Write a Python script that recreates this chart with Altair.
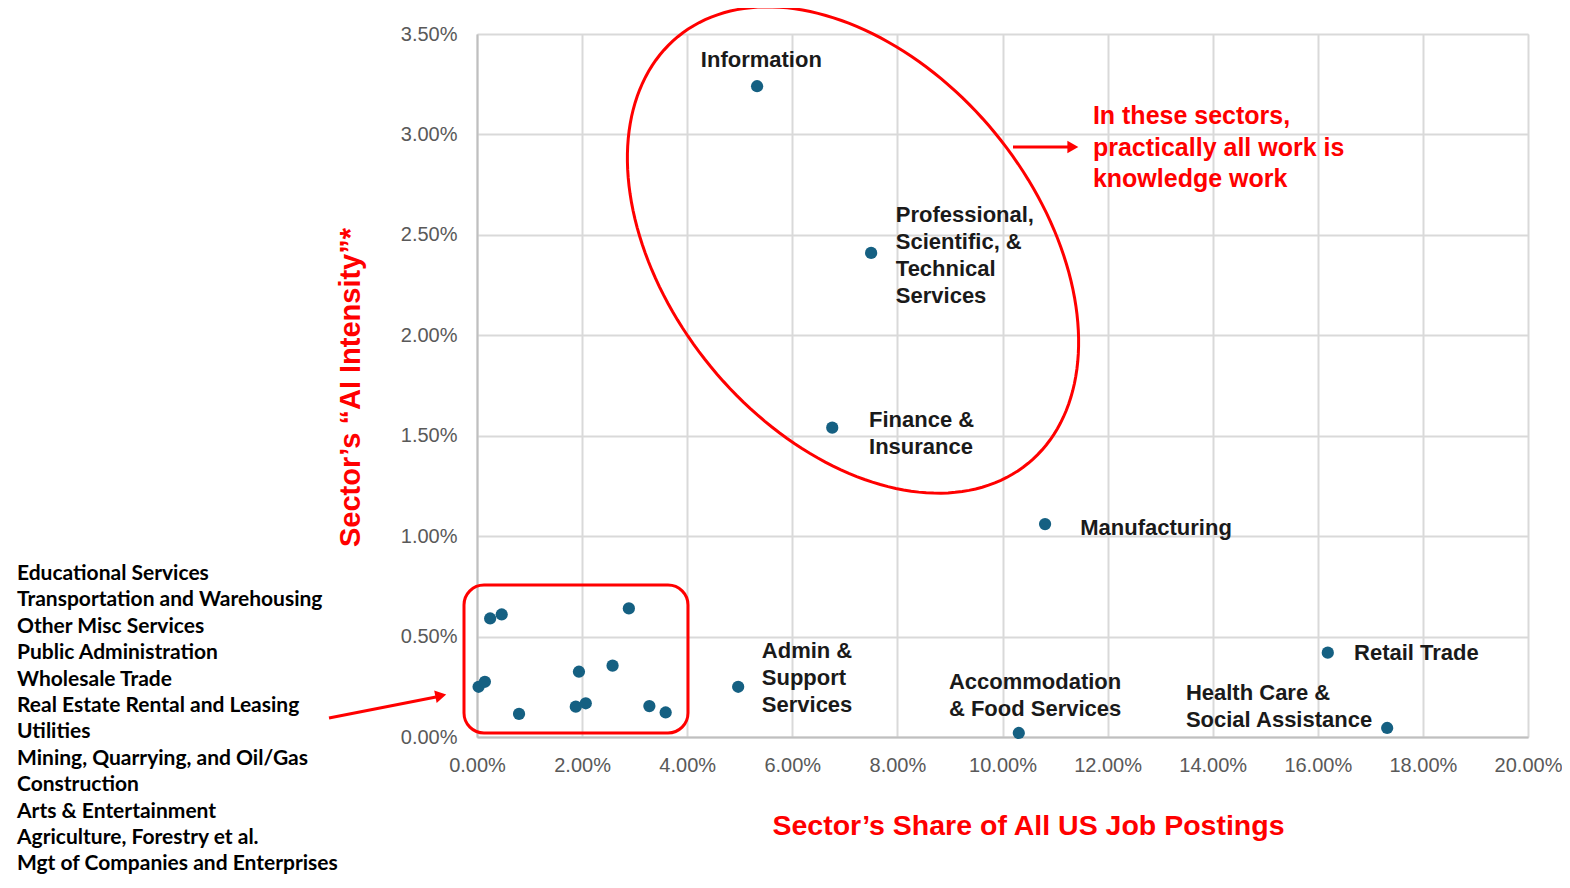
import altair as alt
import numpy as np
import pandas as pd

# ---- data (percent units) ----
sectors = [
    "Information", "Professional, Scientific, & Technical Services", "Finance & Insurance",
    "Manufacturing", "Admin & Support Services", "Accommodation & Food Services",
    "Retail Trade", "Health Care & Social Assistance",
    "Cluster A", "Cluster B", "Cluster C", "Cluster D", "Cluster E", "Cluster F",
    "Cluster G", "Cluster H", "Cluster I", "Cluster J", "Cluster K", "Cluster L",
]
job_share = [5.33, 7.50, 6.76, 10.81, 4.97, 10.31, 16.19, 17.32,
             0.25, 0.47, 2.89, 1.94, 2.58, 0.03, 0.15, 0.80, 1.88, 2.07, 3.28, 3.59]
ai_intensity = [3.24, 2.41, 1.54, 1.06, 0.25, 0.02, 0.42, 0.045,
                0.59, 0.61, 0.64, 0.325, 0.355, 0.25, 0.275, 0.115, 0.151, 0.168, 0.154, 0.122]

x_ticks = [0, 2, 4, 6, 8, 10, 12, 14, 16, 18, 20]
y_ticks = [0, 0.5, 1.0, 1.5, 2.0, 2.5, 3.0, 3.5]

# point labels (text lines) and the anchor of their first line, in data units
label_lines = [
    ["Information"],
    ["Professional,", "Scientific, &", "Technical", "Services"],
    ["Finance &", "Insurance"],
    ["Manufacturing"],
    ["Admin &", "Support", "Services"],
    ["Accommodation", "& Food Services"],
    ["Health Care &", "Social Assistance"],
    ["Retail Trade"],
]
label_x = [4.26, 7.97, 7.46, 11.48, 5.42, 8.98, 13.49, 16.69]
label_y = [3.37, 2.60, 1.58, 1.04, 0.43, 0.275, 0.22, 0.42]

note_lines = ["In these sectors,", "practically all work is", "knowledge work"]
note_x = [11.72]
note_y = [3.09]

cluster_list = [
    "Educational Services", "Transportation and Warehousing", "Other Misc Services",
    "Public Administration", "Wholesale Trade", "Real Estate Rental and Leasing",
    "Utilities", "Mining, Quarrying, and Oil/Gas", "Construction",
    "Arts & Entertainment", "Agriculture, Forestry et al.", "Mgt of Companies and Enterprises",
]

W, H = 1051, 703
XMAX, YMAX = 20.0, 3.5
RED = "#ff0000"

pts = pd.DataFrame({"sector": sectors, "x": job_share, "y": ai_intensity})

xs = alt.Scale(domain=[0, XMAX], nice=False)
ys = alt.Scale(domain=[0, YMAX], nice=False)

xaxis = alt.Axis(values=x_ticks, labelExpr="format(datum.value, '.2f') + '%'",
                 title="Sector’s Share of All US Job Postings", titleColor=RED,
                 titleFont="Liberation Sans", titleFontSize=28.5, titleFontWeight="bold",
                 titleX=551, titleY=88, titleBaseline="middle", titleAnchor="middle",
                 labelFont="Liberation Sans", labelFontSize=20, labelColor="#595959",
                 labelPadding=18, labelFlush=False, labelOverlap=False,
                 ticks=False, domainColor="#bfbfbf", domainWidth=2,
                 gridColor="#d9d9d9", gridWidth=2)
yaxis = alt.Axis(values=y_ticks, labelExpr="format(datum.value, '.2f') + '%'",
                 title="Sector’s “AI Intensity”*", titleColor=RED,
                 titleFont="Liberation Sans", titleFontSize=29, titleFontWeight="bold",
                 titleX=-112, titleY=353, titleAnchor="middle",
                 labelFont="Liberation Sans", labelFontSize=20, labelColor="#595959",
                 labelPadding=20, labelFlush=False, labelOverlap=False,
                 ticks=False, domainColor="#bfbfbf", domainWidth=2,
                 gridColor="#d9d9d9", gridWidth=2)

points = alt.Chart(pts).mark_circle(size=150, color="#156082", opacity=1).encode(
    x=alt.X("x:Q", scale=xs, axis=xaxis),
    y=alt.Y("y:Q", scale=ys, axis=yaxis),
)

# label text
lab_df = pd.DataFrame({"t": label_lines, "x": label_x, "y": label_y})
labels = alt.Chart(lab_df).mark_text(
    align="left", baseline="middle", font="Liberation Sans", fontSize=22,
    fontWeight="bold", color="#1a1a1a", lineHeight=27
).encode(x=alt.X("x:Q", scale=xs), y=alt.Y("y:Q", scale=ys), text="t")

note_df = pd.DataFrame({"t": [note_lines], "x": note_x, "y": note_y})
note = alt.Chart(note_df).mark_text(
    align="left", baseline="middle", font="Liberation Sans", fontSize=25,
    fontWeight="bold", color=RED, lineHeight=31.5
).encode(x=alt.X("x:Q", scale=xs), y=alt.Y("y:Q", scale=ys), text="t")

# cluster list outside the plot
cl_df = pd.DataFrame({"t": [cluster_list]})
cl_text = alt.Chart(cl_df).mark_text(
    align="left", baseline="middle", font="Lato", fontSize=21,
    fontWeight="bold", color="#000000", lineHeight=26.4
).encode(x=alt.value(17 - 477), y=alt.value(574 - 34), text="t")

# ellipse annotation (pixel geometry -> data units)
px_per_x = W / XMAX
px_per_y = H / YMAX
cx, cy, a, b, phi = 853 - 477, 250 - 34, 276, 184, np.deg2rad(50.6)
th = np.linspace(0, 2 * np.pi, 181)
ex = cx + a * np.cos(th) * np.cos(phi) - b * np.sin(th) * np.sin(phi)
ey = cy + a * np.cos(th) * np.sin(phi) + b * np.sin(th) * np.cos(phi)
ell = pd.DataFrame({"x": ex / px_per_x, "y": (H - ey) / px_per_y, "o": np.arange(len(th))})
ellipse = alt.Chart(ell).mark_line(color=RED, strokeWidth=3).encode(
    x=alt.X("x:Q", scale=xs), y=alt.Y("y:Q", scale=ys), order="o:Q")

# rounded rectangle around cluster
box_df = pd.DataFrame({"x": [(464 - 477) / px_per_x], "x2": [(688 - 477) / px_per_x],
                       "y": [(737 - 733) / px_per_y], "y2": [(737 - 585) / px_per_y]})
box = alt.Chart(box_df).mark_rect(fill=None, stroke=RED, strokeWidth=3, cornerRadius=20,
                                  filled=False).encode(
    x=alt.X("x:Q", scale=xs), x2="x2:Q", y=alt.Y("y:Q", scale=ys), y2="y2:Q")

# arrows
arr_df = pd.DataFrame({
    "x": [(1013 - 477) / px_per_x, (329 - 477) / px_per_x],
    "y": [(737 - 147) / px_per_y, (737 - 718) / px_per_y],
    "x2": [(1068 - 477) / px_per_x, (436 - 477) / px_per_x],
    "y2": [(737 - 147) / px_per_y, (737 - 697) / px_per_y],
    "hx": [(1071 - 477) / px_per_x, (439 - 477) / px_per_x],
    "hy": [(737 - 147) / px_per_y, (737 - 696) / px_per_y],
    "ang": [90, 79],
})
shafts = alt.Chart(arr_df).mark_rule(color=RED, strokeWidth=3).encode(
    x=alt.X("x:Q", scale=xs), x2="x2:Q", y=alt.Y("y:Q", scale=ys), y2="y2:Q")
heads = alt.Chart(arr_df).mark_point(shape="triangle", filled=True, color=RED, size=160,
                                     opacity=1).encode(
    x=alt.X("hx:Q", scale=xs), y=alt.Y("hy:Q", scale=ys),
    angle=alt.Angle("ang:Q", scale=None))

chart = alt.layer(ellipse, box, shafts, heads, points, labels, note, cl_text).properties(
    width=W, height=H,
    autosize=alt.AutoSizeParams(type="none"),
    padding={"left": 469, "top": 26, "right": 34, "bottom": 143},
).configure_view(stroke=None).configure(background="white")

chart.save("out.html", embed_options={"renderer": "svg", "actions": False})
